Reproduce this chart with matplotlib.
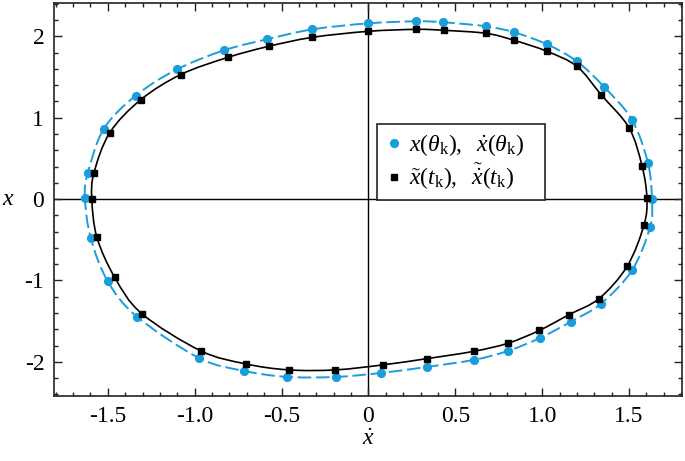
import matplotlib
matplotlib.use("Agg")
import matplotlib.pyplot as plt
import numpy as np
from matplotlib.path import Path
from matplotlib.patches import PathPatch
from matplotlib.ticker import MultipleLocator

plt.rcParams['font.family'] = ['Liberation Serif', 'DejaVu Serif']
plt.rcParams['mathtext.fontset'] = 'custom'
plt.rcParams['mathtext.rm'] = 'Liberation Serif'
plt.rcParams['mathtext.it'] = 'Liberation Serif:italic'
plt.rcParams['axes.unicode_minus'] = False

# blue: x(theta_k), xdot(theta_k)  -- (xdot, x) pairs, clockwise from the left
blue_xdot = [-1.632, -1.615, -1.523, -1.339, -1.103, -0.833, -0.586, -0.322,
             0.000, 0.276, 0.431, 0.678, 0.839, 1.029, 1.201, 1.356,
             1.517, 1.609, 1.632, 1.621, 1.517, 1.339, 1.167, 0.989,
             0.805, 0.609, 0.339, 0.075, -0.184, -0.466, -0.718, -0.977,
             -1.333, -1.500, -1.598]
blue_x = [0.012, 0.321, 0.864, 1.272, 1.593, 1.827, 1.963, 2.086,
          2.160, 2.185, 2.173, 2.123, 2.049, 1.901, 1.691, 1.380,
          0.975, 0.444, 0.000, -0.346, -0.877, -1.284, -1.505, -1.705,
          -1.865, -1.975, -2.062, -2.136, -2.185, -2.185, -2.111, -1.951,
          -1.444, -1.012, -0.481]

# black: tilde x(t_k), tilde xdot(t_k)
black_xdot = [-1.592, -1.580, -1.489, -1.310, -1.080, -0.810, -0.575, -0.322,
              0.000, 0.276, 0.437, 0.678, 0.839, 1.029, 1.201, 1.339,
              1.500, 1.575, 1.603, 1.586, 1.489, 1.328, 1.155, 0.983,
              0.805, 0.609, 0.339, 0.086, -0.190, -0.460, -0.707, -0.966,
              -1.305, -1.460, -1.563]
black_x = [0.000, 0.321, 0.815, 1.222, 1.531, 1.741, 1.877, 1.988,
           2.062, 2.086, 2.074, 2.037, 1.951, 1.815, 1.630, 1.284,
           0.877, 0.407, 0.012, -0.321, -0.827, -1.222, -1.420, -1.615,
           -1.770, -1.870, -1.960, -2.037, -2.099, -2.099, -2.025, -1.864,
           -1.407, -0.963, -0.469]

xticks = [-1.5, -1.0, -0.5, 0, 0.5, 1.0, 1.5]
xticklabels = ['-1.5', '-1.0', '-0.5', '0', '0.5', '1.0', '1.5']
yticks = [-2, -1, 0, 1, 2]
yticklabels = ['-2', '-1', '0', '1', '2']

blue = '#1a9edb'


def closed_curve(xs, ys):
    # smooth closed path through the points (Catmull-Rom as cubic Beziers)
    p = np.column_stack([xs, ys])
    n = len(p)
    verts = [p[0]]
    codes = [Path.MOVETO]
    for i in range(n):
        p0, p1, p2, p3 = p[i - 1], p[i], p[(i + 1) % n], p[(i + 2) % n]
        verts += [p1 + (p2 - p0) / 6, p2 - (p3 - p1) / 6, p2]
        codes += [Path.CURVE4] * 3
    return Path(verts, codes)


fig = plt.figure(figsize=(6.85, 4.61), dpi=100)
ax = fig.add_axes([0.0788, 0.141, 0.9168, 0.8525])

ax.axhline(0, color='black', lw=1.0, zorder=1)
ax.axvline(0, color='black', lw=1.0, zorder=1)

ax.add_patch(PathPatch(closed_curve(blue_xdot, blue_x), fill=False,
                       edgecolor=blue, lw=1.4, linestyle=(0, (7, 2.4)), zorder=2))
ax.add_patch(PathPatch(closed_curve(black_xdot, black_x), fill=False,
                       edgecolor='black', lw=1.2, zorder=2))

ax.plot(blue_xdot, blue_x, 'o', color=blue, ms=5.6, ls='none', zorder=3,
        label=r'$x(\theta_{\rm k}),\ \ \dot{x}(\theta_{\rm k})$')
ax.plot(black_xdot, black_x, 's', color='black', ms=4.2, ls='none', zorder=3,
        label=r'$\tilde{x}(t_{\rm k}),\ \ \tilde{\dot{x}}(t_{\rm k})$')

ax.set_xlim(-1.81, 1.805)
ax.set_ylim(-2.42, 2.41)
ax.set_xticks(xticks)
ax.set_xticklabels(xticklabels)
ax.set_yticks(yticks)
ax.set_yticklabels(yticklabels)
ax.xaxis.set_minor_locator(MultipleLocator(0.1))
ax.yaxis.set_minor_locator(MultipleLocator(0.2))
ax.tick_params(which='both', direction='in', top=True, right=True,
               labelsize=17, width=1.0, color='#222222')
ax.tick_params(which='major', length=6, pad=7)
ax.tick_params(which='minor', length=3)
for s in ax.spines.values():
    s.set_linewidth(1.2)
    s.set_color('#222222')

ax.set_xlabel(r'$\dot{x}$', fontsize=17)
ax.xaxis.set_label_coords(0.5, -0.085)
ax.set_ylabel(r'$x$', fontsize=17, rotation=0, ha='center', va='center')
ax.yaxis.set_label_coords(-0.072, 0.5)

leg = ax.legend(loc='upper left', bbox_to_anchor=(0.514, 0.5164, 0.2675, 0.1756),
                mode='expand', fontsize=17,
                frameon=True, fancybox=False, edgecolor='#222222', framealpha=1,
                handlelength=0.8, handletextpad=0.2, borderpad=0.35,
                labelspacing=0.15, borderaxespad=0)
leg.get_frame().set_linewidth(1.2)

fig.savefig('out.png', dpi=100)
